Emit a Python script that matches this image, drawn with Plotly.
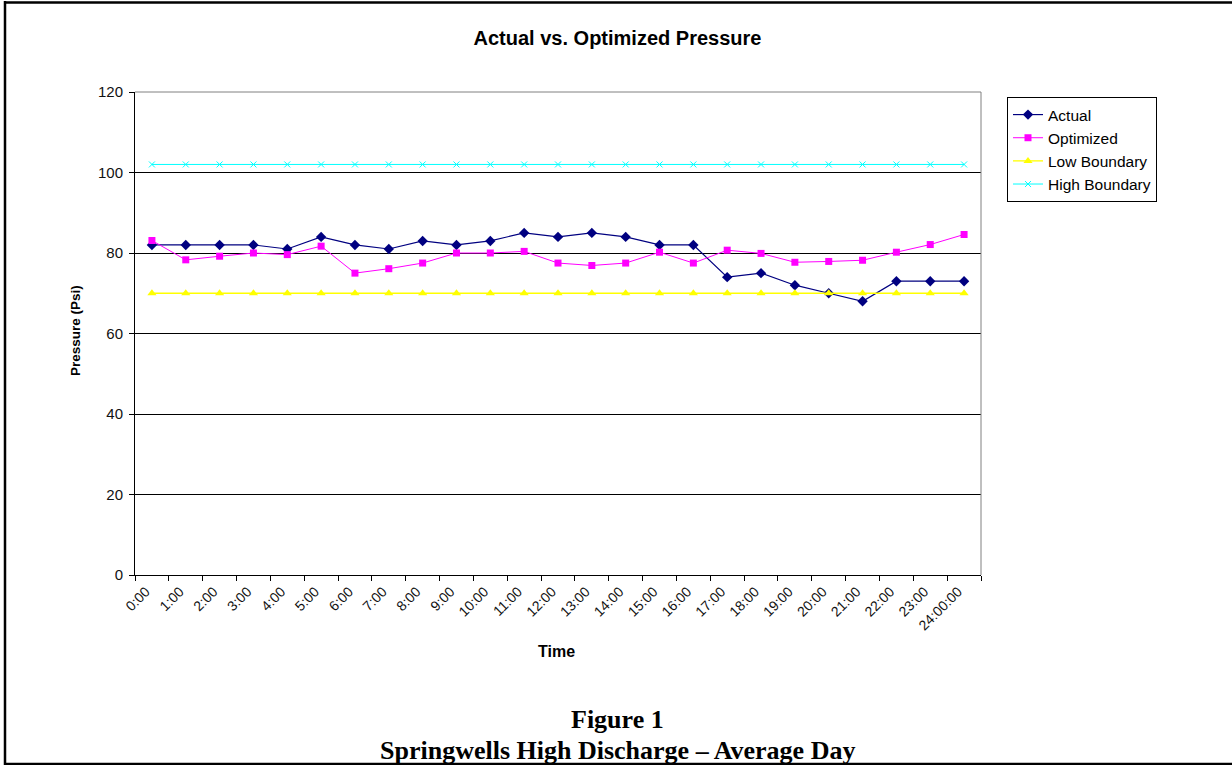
import plotly.graph_objects as go

times = ["0:00", "1:00", "2:00", "3:00", "4:00", "5:00", "6:00", "7:00", "8:00", "9:00",
         "10:00", "11:00", "12:00", "13:00", "14:00", "15:00", "16:00", "17:00", "18:00",
         "19:00", "20:00", "21:00", "22:00", "23:00", "24:00:00"]
actual = [82, 82, 82, 82, 81, 84, 82, 81, 83, 82, 83, 85, 84, 85, 84, 82, 82, 74, 75, 72, 70, 68, 73, 73, 73]
optimized = [83.1, 78.3, 79.2, 80.0, 79.6, 81.7, 75.0, 76.1, 77.5, 80.0, 80.0, 80.4, 77.5,
             76.9, 77.5, 80.2, 77.5, 80.7, 79.9, 77.7, 77.9, 78.2, 80.2, 82.1, 84.6]
low_boundary = [70] * 25
high_boundary = [102] * 25
y_ticks = [0, 20, 40, 60, 80, 100, 120]

W, H = 1232, 765
L, R, T, B = 135, 981, 92, 575  # plot area in pixels


def px(x):
    return (x - L) / (R - L)


def py(y):
    return (B - y) / (B - T)


fig = go.Figure()
fig.add_trace(go.Scatter(x=times, y=actual, name="Actual", mode="lines+markers",
                         line=dict(color="#000080", width=1.2),
                         marker=dict(symbol="diamond", size=8, color="#000080")))
fig.add_trace(go.Scatter(x=times, y=optimized, name="Optimized", mode="lines+markers",
                         line=dict(color="#FF00FF", width=1),
                         marker=dict(symbol="square", size=7, color="#FF00FF")))
fig.add_trace(go.Scatter(x=times, y=low_boundary, name="Low Boundary", mode="lines+markers",
                         line=dict(color="#FFFF00", width=1.3),
                         marker=dict(symbol="triangle-up", size=8, color="#FFFF00")))
fig.add_trace(go.Scatter(x=times, y=high_boundary, name="High Boundary", mode="lines+markers",
                         line=dict(color="#00FFFF", width=1),
                         marker=dict(symbol="x-thin-open", size=6, color="#00FFFF",
                                     line=dict(color="#00FFFF", width=1))))

fig.update_layout(
    width=W, height=H,
    margin=dict(l=L, r=W - R, t=T, b=H - B, pad=0),
    paper_bgcolor="white", plot_bgcolor="white",
    font=dict(family="Liberation Sans, Arial", size=14, color="black"),
    showlegend=True,
    legend=dict(x=px(1007), y=py(97), xanchor="left", yanchor="top",
                bordercolor="black", borderwidth=1, bgcolor="white",
                font=dict(size=15.5, family="Liberation Sans, Arial"),
                tracegroupgap=0, itemwidth=30),
    title=dict(text="<b>Actual vs. Optimized Pressure</b>", x=617.5 / W, xanchor="center",
               y=1 - 38 / H, yanchor="middle",
               font=dict(size=20, family="Liberation Sans, Arial", color="black")),
)

fig.update_xaxes(type="category", range=[-0.5, len(times) - 0.5],
                 showgrid=False, showline=True, linecolor="black", linewidth=1,
                 ticks="outside", tickson="boundaries", ticklen=5, tickcolor="black",
                 tickangle=-45, tickfont=dict(size=14, color="#111111"),
                 ticklabelshift=-6, ticklabelstandoff=2)
fig.update_yaxes(range=[0, 120], tickvals=y_ticks, showgrid=True, gridcolor="black",
                 gridwidth=1, showline=True, linecolor="black", linewidth=1,
                 ticks="outside", ticklen=5, tickcolor="black", zeroline=False,
                 tickfont=dict(size=15, color="#111111"), ticklabelstandoff=3)

# plot area top/right border (gray)
fig.add_shape(type="line", xref="paper", yref="paper", x0=0, x1=1, y0=1, y1=1,
              line=dict(color="#808080", width=1), layer="above")
fig.add_shape(type="line", xref="paper", yref="paper", x0=1, x1=1, y0=0, y1=1,
              line=dict(color="#808080", width=1), layer="above")

# outer frame (left, top, bottom)
frame = dict(color="black", width=2.5)
fig.add_shape(type="line", xref="paper", yref="paper", x0=px(5), x1=px(5), y0=py(1), y1=py(765),
              line=frame)
fig.add_shape(type="line", xref="paper", yref="paper", x0=px(4), x1=px(1232), y0=py(2.5), y1=py(2.5),
              line=frame)
fig.add_shape(type="line", xref="paper", yref="paper", x0=px(4), x1=px(1232), y0=py(764), y1=py(764),
              line=frame)

fig.add_annotation(text="<b>Time</b>", xref="paper", yref="paper", x=px(556), y=py(651),
                   showarrow=False, font=dict(size=16, family="Liberation Sans, Arial"),
                   xanchor="center", yanchor="middle")
fig.add_annotation(text="<b>Pressure (Psi)</b>", xref="paper", yref="paper", x=px(75), y=py(331),
                   showarrow=False, textangle=-90, font=dict(size=13.5, family="Liberation Sans, Arial"),
                   xanchor="center", yanchor="middle")
fig.add_annotation(text="<b>Figure 1</b>", xref="paper", yref="paper", x=px(617), y=py(719),
                   showarrow=False, font=dict(size=26, family="Liberation Serif, Times New Roman"),
                   xanchor="center", yanchor="middle")
fig.add_annotation(text="<b>Springwells High Discharge – Average Day</b>", xref="paper", yref="paper",
                   x=px(617), y=py(750), showarrow=False,
                   font=dict(size=26, family="Liberation Serif, Times New Roman"),
                   xanchor="center", yanchor="middle")

fig.write_html("out.html")
